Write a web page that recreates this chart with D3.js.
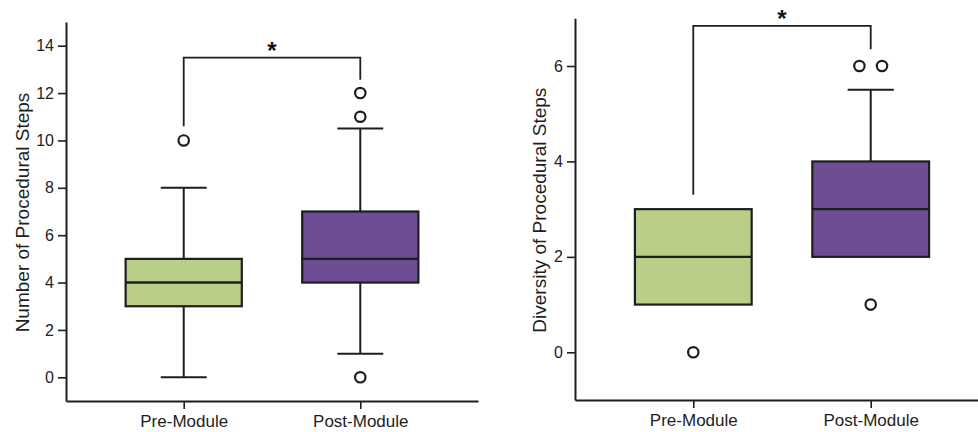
<!DOCTYPE html>
<html>
<head>
<meta charset="utf-8">
<script src="https://cdn.jsdelivr.net/npm/d3@7"></script>
<style>
  html, body { margin: 0; padding: 0; background: #fff; }
  svg { display: block; font-family: "Liberation Sans", Arial, sans-serif; }
</style>
</head>
<body>
<svg id="chart" width="978" height="432"></svg>
<script>
// ---- data ----
const categories = ["Pre-Module", "Post-Module"];

// Panel A: Number of Procedural Steps
const stepsTicks = [0, 2, 4, 6, 8, 10, 12, 14];
const stepsQ1 = [3, 4];
const stepsMedian = [4, 5];
const stepsQ3 = [5, 7];
const stepsWhiskerLow = [0, 1];
const stepsWhiskerHigh = [8, 10.5];
const stepsOutliers = [[10], [12, 11, 0]];
const stepsOutlierDodge = [[0], [0, 0, 0]];
const stepsBracket = [10.6, 13.5, 12.56]; // left leg end, top, right leg end

// Panel B: Diversity of Procedural Steps
const diversityTicks = [0, 2, 4, 6];
const diversityQ1 = [1, 2];
const diversityMedian = [2, 3];
const diversityQ3 = [3, 4];
const diversityWhiskerLow = [1, 2];
const diversityWhiskerHigh = [3, 5.5];
const diversityOutliers = [[0], [6, 6, 1]];
const diversityOutlierDodge = [[0], [-1, 1, 0]];
const diversityBracket = [3.3, 6.84, 6.35];

const boxColors = ["#b9cf88", "#6d4d93"];
const ink = "#1e1e1e";

const svg = d3.select("#chart");

function drawPanel(p) {
  const g = svg.append("g");
  const x = d3.scalePoint().domain(categories).range([p.left, p.xEnd]).padding(2 / 3);
  const y = d3.scaleLinear().domain(p.yDomain).range([p.bottom, p.top]);
  const step = x.step();
  const boxW = step * 0.658;
  const capW = step * 0.26;

  // axes
  const ya = g.append("g").attr("transform", `translate(${p.left},0)`)
    .call(d3.axisLeft(y).tickValues(p.ticks).tickSize(8).tickSizeOuter(0).tickPadding(4).tickFormat(d3.format("d")));
  ya.select(".domain").attr("stroke", ink).attr("stroke-width", 2);
  ya.selectAll(".tick line").attr("stroke", ink).attr("stroke-width", 1.6);
  ya.selectAll(".tick text").attr("fill", "#222").style("font-size", "16px")
    .style("font-family", "'Liberation Sans', Arial, sans-serif");

  const xa = g.append("g").attr("transform", `translate(0,${p.bottom})`)
    .call(d3.axisBottom(x).tickSize(8).tickSizeOuter(0).tickPadding(6));
  xa.select(".domain").attr("stroke", ink).attr("stroke-width", 2);
  xa.selectAll(".tick line").attr("stroke", ink).attr("stroke-width", 1.6);
  xa.selectAll(".tick text").attr("fill", "#1e1e1e").style("font-size", "17px")
    .style("font-family", "'Liberation Sans', Arial, sans-serif");

  // axis title
  g.append("text")
    .attr("transform", `translate(${p.titleX},${(p.bottom + p.top) / 2 + 1}) rotate(-90)`)
    .attr("text-anchor", "middle")
    .attr("fill", "#1e1e1e")
    .style("font-size", "19px")
    .text(p.title);

  categories.forEach((c, i) => {
    const cx = x(c);
    // whiskers
    if (p.wHigh[i] > p.q3[i]) {
      g.append("line").attr("x1", cx).attr("x2", cx).attr("y1", y(p.q3[i])).attr("y2", y(p.wHigh[i]))
        .attr("stroke", ink).attr("stroke-width", 2);
      g.append("line").attr("x1", cx - capW / 2).attr("x2", cx + capW / 2).attr("y1", y(p.wHigh[i])).attr("y2", y(p.wHigh[i]))
        .attr("stroke", ink).attr("stroke-width", 2);
    }
    if (p.wLow[i] < p.q1[i]) {
      g.append("line").attr("x1", cx).attr("x2", cx).attr("y1", y(p.q1[i])).attr("y2", y(p.wLow[i]))
        .attr("stroke", ink).attr("stroke-width", 2);
      g.append("line").attr("x1", cx - capW / 2).attr("x2", cx + capW / 2).attr("y1", y(p.wLow[i])).attr("y2", y(p.wLow[i]))
        .attr("stroke", ink).attr("stroke-width", 2);
    }
    // box
    g.append("rect")
      .attr("x", cx - boxW / 2).attr("width", boxW)
      .attr("y", y(p.q3[i])).attr("height", y(p.q1[i]) - y(p.q3[i]))
      .attr("fill", boxColors[i]).attr("stroke", ink).attr("stroke-width", 2.2);
    g.append("line").attr("x1", cx - boxW / 2).attr("x2", cx + boxW / 2)
      .attr("y1", y(p.median[i])).attr("y2", y(p.median[i]))
      .attr("stroke", ink).attr("stroke-width", 2.4);
    // outliers
    p.outliers[i].forEach((v, j) => {
      g.append("circle")
        .attr("cx", cx + p.dodge[i][j] * 11.3).attr("cy", y(v)).attr("r", 5.2)
        .attr("fill", "#fff").attr("stroke", ink).attr("stroke-width", 2.2);
    });
  });

  // significance bracket
  const [lv, tv, rv] = p.bracket;
  const x0 = x(categories[0]), x1 = x(categories[1]);
  g.append("path")
    .attr("d", `M${x0},${y(lv)}V${y(tv)}H${x1}V${y(rv)}`)
    .attr("fill", "none").attr("stroke", ink).attr("stroke-width", 1.8);
  g.append("text")
    .attr("x", (x0 + x1) / 2).attr("y", y(tv) + 1)
    .attr("text-anchor", "middle").attr("fill", "#111")
    .style("font-size", "24px").style("font-weight", "bold")
    .text("*");
}

drawPanel({
  left: 66, xEnd: 478, top: 22, bottom: 401, yDomain: [-1, 15],
  ticks: stepsTicks, title: "Number of Procedural Steps", titleX: 29,
  q1: stepsQ1, median: stepsMedian, q3: stepsQ3,
  wLow: stepsWhiskerLow, wHigh: stepsWhiskerHigh,
  outliers: stepsOutliers, dodge: stepsOutlierDodge, bracket: stepsBracket
});

drawPanel({
  left: 575, xEnd: 989, top: 18.3, bottom: 400, yDomain: [-1, 7],
  ticks: diversityTicks, title: "Diversity of Procedural Steps", titleX: 546,
  q1: diversityQ1, median: diversityMedian, q3: diversityQ3,
  wLow: diversityWhiskerLow, wHigh: diversityWhiskerHigh,
  outliers: diversityOutliers, dodge: diversityOutlierDodge, bracket: diversityBracket
});
</script>
</body>
</html>
